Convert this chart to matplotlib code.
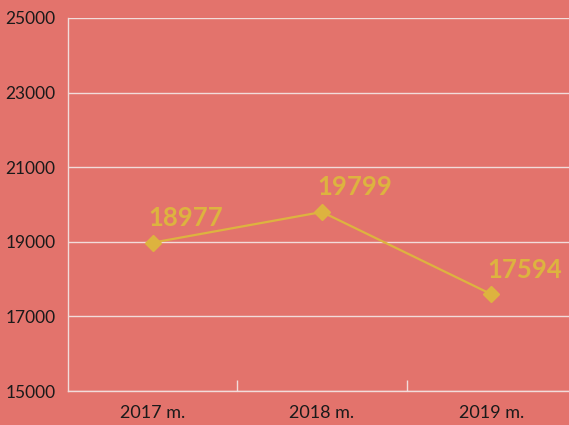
import matplotlib
matplotlib.use("Agg")
import matplotlib.pyplot as plt
from matplotlib.ticker import FixedLocator, NullFormatter

categories = ["2017 m.", "2018 m.", "2019 m."]
values = [18977, 19799, 17594]
yticks = [15000, 17000, 19000, 21000, 23000, 25000]

bg = "#E3736C"
gold = "#DDB33F"
grid_c = "#F2DCDA"

plt.rcParams['font.family'] = ['Lato', 'DejaVu Sans']

fig = plt.figure(figsize=(5.69, 4.25), dpi=100, facecolor=bg)
ax = fig.add_axes([68/569, 1-391/425, 508/569, (391-18)/425])
ax.set_facecolor(bg)

x = list(range(len(categories)))
ax.plot(x, values, color=gold, lw=1.6, marker="D", markersize=8, zorder=3)
for xi, v in zip(x, values):
    ax.annotate(f"{v}", (xi, v), xytext=(-3, 9), textcoords="offset points",
                color=gold, fontsize=18.5, fontweight="bold", ha="left", va="bottom")

ax.set_xlim(-0.5, len(categories) - 0.5)
ax.set_ylim(15000, 25000)
ax.set_yticks(yticks)
ax.set_yticklabels([str(t) for t in yticks], fontsize=12.5, color="#1a1a1a")
ax.tick_params(axis="y", length=0, pad=9)
ax.yaxis.grid(True, color=grid_c, lw=1)
ax.set_axisbelow(True)

ax.set_xticks(x)
ax.set_xticklabels(categories, fontsize=13, color="#1a1a1a")
ax.tick_params(axis="x", which="major", length=0, pad=10)
ax.xaxis.set_minor_locator(FixedLocator([0.5, 1.5]))
ax.xaxis.set_minor_formatter(NullFormatter())
ax.tick_params(axis="x", which="minor", direction="in", length=8, color=grid_c, width=1)

for s in ["top", "right"]:
    ax.spines[s].set_visible(False)
for s in ["left", "bottom"]:
    ax.spines[s].set_color(grid_c)
    ax.spines[s].set_linewidth(1)

fig.savefig("out.png", dpi=100, facecolor=bg)
